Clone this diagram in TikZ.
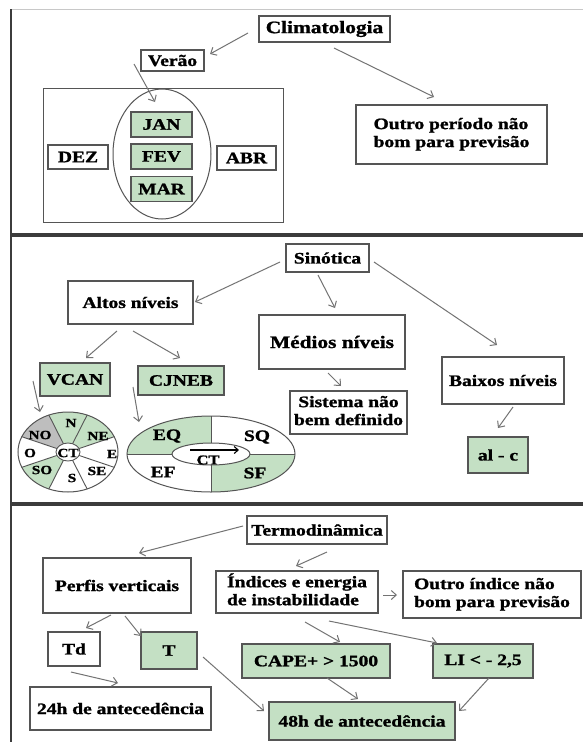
\documentclass[tikz,border=0pt]{standalone}
\usepackage{fontspec}
\setmainfont{Liberation Serif}[BoldFeatures={FakeBold=1.2}]
\usepackage{graphicx}
\usetikzlibrary{arrows.meta,calc,shapes.geometric}
\definecolor{boxgreen}{RGB}{196,224,196}
\definecolor{bordergray}{RGB}{85,85,85}
\definecolor{arrowgray}{RGB}{115,115,115}
\definecolor{sectgray}{RGB}{190,190,190}
\definecolor{framedark}{RGB}{60,60,60}
\definecolor{framelight}{RGB}{200,200,200}
\newcommand\hs[1]{\scalebox{1.22}[1]{#1}}
\newcommand\fsz[1]{\fontsize{#1}{18}\selectfont\bfseries}
\begin{document}
\begin{tikzpicture}[x=1pt,y=-1pt,
  bx/.style={draw=bordergray,line width=1.1pt,fill=white,inner sep=0pt,font=\fsz{16}},
  gbx/.style={bx,fill=boxgreen},
  arr/.style={draw=arrowgray,line width=1pt,-{Straight Barb[length=5pt,width=9pt]}},
  lbl/.style={inner sep=0pt,font=\fsz{12.5}},
  thin/.style={draw=bordergray,line width=1pt},
  ]
\useasboundingbox (0,0) rectangle (583,742);
\fill[white] (0,0) rectangle (583,742);
% frame
\draw[framelight,line width=1.5pt] (11,9.5) -- (583,9.5);
\draw[framedark,line width=4pt] (11,235) -- (583,235);
\draw[framedark,line width=4pt] (11,504) -- (583,504);
\draw[framedark,line width=2.5pt] (11,9) -- (11,742);

% ---------- Climatologia ----------
\node[bx,minimum width=131pt,minimum height=26pt,font=\fsz{17.5}] (clim) at (324.5,29) {\hs{Climatologia}};
\node[bx,minimum width=63pt,minimum height=21pt] (verao) at (172.5,60.5) {\hs{Verão}};
\node[thin,minimum width=240pt,minimum height=134pt,inner sep=0pt] (summer) at (163,155) {};
\node[thin,ellipse,fill=white,minimum width=98pt,minimum height=130pt,inner sep=0pt] (oval) at (162,154) {};
\node[gbx,minimum width=61pt,minimum height=25pt] (jan) at (161.5,124.5) {\hs{JAN}};
\node[gbx,minimum width=61pt,minimum height=25pt] (fev) at (161.5,156.5) {\hs{FEV}};
\node[gbx,minimum width=61pt,minimum height=25pt] (mar) at (161.5,189) {\hs{MAR}};
\node[bx,minimum width=60pt,minimum height=24pt] (dez) at (78,157) {\hs{DEZ}};
\node[bx,minimum width=59pt,minimum height=24pt] (abr) at (246.5,158) {\hs{ABR}};
\node[bx,minimum width=191pt,minimum height=59pt] (outroA) at (451.5,134.5)
  {\hs{\begin{tabular}{@{}l@{}}Outro período não\\bom para previsão\end{tabular}}};
\draw[arr] ([shift={(-76.5,4)}]clim.center) -- ([shift={(37.5,-6.5)}]verao.center);
\draw[arr] ([shift={(9.5,19)}]clim.center) -- ([shift={(-17.5,-37.5)}]outroA.center);
\draw[arr] ([shift={(-38.5,3.5)}]verao.center) -- ([shift={(-6.5,-22.5)}]jan.center);

% ---------- Sinotica ----------
\node[bx,minimum width=83pt,minimum height=28pt] (sin) at (327.5,258) {\hs{Sinótica}};
\node[bx,minimum width=125pt,minimum height=43pt] (altos) at (130.5,302.5) {\hs{Altos níveis}};
\node[bx,minimum width=146pt,minimum height=54pt,font=\fsz{17.5}] (medios) at (332,342) {\hs{Médios níveis}};
\node[bx,minimum width=122pt,minimum height=47pt] (baixos) at (503,380.5) {\hs{Baixos níveis}};
\node[bx,minimum width=117pt,minimum height=43pt] (sist) at (348.5,412.5)
  {\hs{\begin{tabular}{@{}c@{}}Sistema não\\bem definido\end{tabular}}};
\node[gbx,minimum width=60pt,minimum height=36pt] (alc) at (498,455) {\hs{al - c}};
\node[gbx,minimum width=70pt,minimum height=33pt] (vcan) at (75,379.5) {\hs{VCAN}};
\node[gbx,minimum width=86pt,minimum height=29pt] (cjneb) at (181,380.5) {\hs{CJNEB}};

% compass
\coordinate (comp) at (68,452);
\fill[white] (comp) ellipse [x radius=50,y radius=40];
\foreach \a/\b/\c in {-22.5/-67.5/boxgreen,-67.5/-112.5/boxgreen,-112.5/-157.5/sectgray,-202.5/-247.5/boxgreen}
  \fill[\c] (comp) -- ($(comp)+(\a:50 and 40)$) arc[start angle=\a,end angle=\b,x radius=50,y radius=40] -- cycle;
\foreach \a in {22.5,67.5,...,337.5}
  \draw[thin,line width=0.9pt] ($(comp)+(\a:12 and 9)$) -- ($(comp)+(\a:50 and 40)$);
\draw[thin] (comp) ellipse [x radius=50,y radius=40];
\draw[thin,line width=0.9pt,fill=white] (comp) ellipse [x radius=12,y radius=9];
\node[lbl] (cCT) at (68,453) {\hs{CT}};
\node[lbl] (cNO) at (40,435) {\hs{NO}};
\node[lbl] (cN) at (71,423) {\hs{N}};
\node[lbl] (cNE) at (98,436) {\hs{NE}};
\node[lbl] (cO) at (30,453) {\hs{O}};
\node[lbl] (cE) at (112,454) {\hs{E}};
\node[lbl] (cSO) at (42,470) {\hs{SO}};
\node[lbl] (cS) at (72,478) {\hs{S}};
\node[lbl] (cSE) at (97,471) {\hs{SE}};

% CJNEB ellipse
\coordinate (cje) at (211,454);
\fill[white] (cje) ellipse [x radius=84,y radius=38];
\begin{scope}
  \clip (cje) rectangle ++(-90,-45);
  \fill[boxgreen] (cje) ellipse [x radius=84,y radius=38];
\end{scope}
\begin{scope}
  \clip (cje) rectangle ++(90,45);
  \fill[boxgreen] (cje) ellipse [x radius=84,y radius=38];
\end{scope}
\draw[thin] (cje) ellipse [x radius=84,y radius=38];
\draw[thin] ($(cje)+(-84,0)$) -- ($(cje)+(84,0)$);
\draw[thin] ($(cje)+(0,-38)$) -- ($(cje)+(0,38)$);
\draw[thin,fill=white] (cje) ellipse [x radius=39,y radius=11];
\draw[black,line width=1.1pt,-{Straight Barb[length=4pt,width=7pt]}] ($(cje)+(-21,-4)$) -- ($(cje)+(28,-4)$);
\node[lbl,font=\fsz{13.5}] (cCTb) at ($(cje)+(-3,6)$) {\hs{CT}};
\node[lbl,font=\fsz{16}] (qEQ) at (167,436) {\hs{EQ}};
\node[lbl,font=\fsz{16}] (qSQ) at (257,437) {\hs{SQ}};
\node[lbl,font=\fsz{16}] (qEF) at (163,472) {\hs{EF}};
\node[lbl,font=\fsz{16}] (qSF) at (255,473) {\hs{SF}};

\draw[arr] ([shift={(-47.5,4)}]sin.center) -- ([shift={(64.5,-0.5)}]altos.center);
\draw[arr] ([shift={(-9.5,17)}]sin.center) -- ([shift={(3,-34)}]medios.center);
\draw[arr] ([shift={(46.5,4)}]sin.center) -- ([shift={(-6,-35.5)}]baixos.center);
\draw[arr] ([shift={(-13.5,28.5)}]altos.center) -- ([shift={(11,-21.5)}]vcan.center);
\draw[arr] ([shift={(2.5,28.5)}]altos.center) -- ([shift={(-1,-22.5)}]cjneb.center);
\draw[arr] ([shift={(-4,31)}]medios.center) -- ([shift={(-7.5,-26.5)}]sist.center);
\draw[arr] ([shift={(10,26.5)}]baixos.center) -- ([shift={(0,-27)}]alc.center);
\draw[arr] ([shift={(-42,1.5)}]vcan.center) -- ([shift={(-28,-40)}]comp);
\draw[arr] ([shift={(-48,6.5)}]cjneb.center) -- ([shift={(-72,-32)}]cje);

% ---------- Termodinamica ----------
\node[bx,minimum width=140pt,minimum height=28pt] (termo) at (317,530) {\hs{Termodinâmica}};
\node[bx,minimum width=148pt,minimum height=55pt] (perfis) at (117,585.5) {\hs{Perfis verticais}};
\node[bx,minimum width=162pt,minimum height=42pt] (indices) at (297,592)
  {\hs{\begin{tabular}{@{}l@{}}Índices e energia\\de instabilidade\end{tabular}}};
\node[bx,minimum width=178pt,minimum height=47pt] (outroB) at (492,594.5)
  {\hs{\begin{tabular}{@{}l@{}}Outro índice não\\bom para previsão\end{tabular}}};
\node[bx,minimum width=52pt,minimum height=34pt] (td) at (74,649) {\hs{Td}};
\node[gbx,minimum width=56pt,minimum height=37pt] (t) at (169,650.5) {\hs{T}};
\node[gbx,minimum width=148pt,minimum height=34pt] (cape) at (316,661) {\hs{CAPE+ > 1500}};
\node[gbx,minimum width=100pt,minimum height=34pt] (li) at (483,661) {\hs{LI < - 2,5}};
\node[bx,minimum width=181pt,minimum height=43pt] (hA) at (120.5,708.5) {\hs{24h de antecedência}};
\node[gbx,minimum width=186pt,minimum height=38pt] (hB) at (362,721) {\hs{48h de antecedência}};

\draw[arr] ([shift={(-74,-4)}]termo.center) -- ([shift={(22,-32.5)}]perfis.center);
\draw[arr] ([shift={(10,22)}]termo.center) -- ([shift={(-1,-26)}]indices.center);
\draw[arr] ([shift={(86,3)}]indices.center) -- ([shift={(-95,0.5)}]outroB.center);
\draw[arr] ([shift={(-6,29.5)}]perfis.center) -- ([shift={(12,-21)}]td.center);
\draw[arr] ([shift={(8,30.5)}]perfis.center) -- ([shift={(-28,-14.5)}]t.center);
\draw[arr] ([shift={(8,30)}]indices.center) -- ([shift={(24,-19)}]cape.center);
\draw[arr] ([shift={(32,29)}]indices.center) -- ([shift={(-46,-18)}]li.center);
\draw[arr] ([shift={(-3,23)}]td.center) -- ([shift={(-2.5,-25.5)}]hA.center);
\draw[arr] ([shift={(34,6.5)}]t.center) -- ([shift={(-98,-10)}]hB.center);
\draw[arr] ([shift={(11,17)}]cape.center) -- ([shift={(-4,-22)}]hB.center);
\draw[arr] ([shift={(6,17)}]li.center) -- ([shift={(97,-10)}]hB.center);
\end{tikzpicture}
\end{document}
